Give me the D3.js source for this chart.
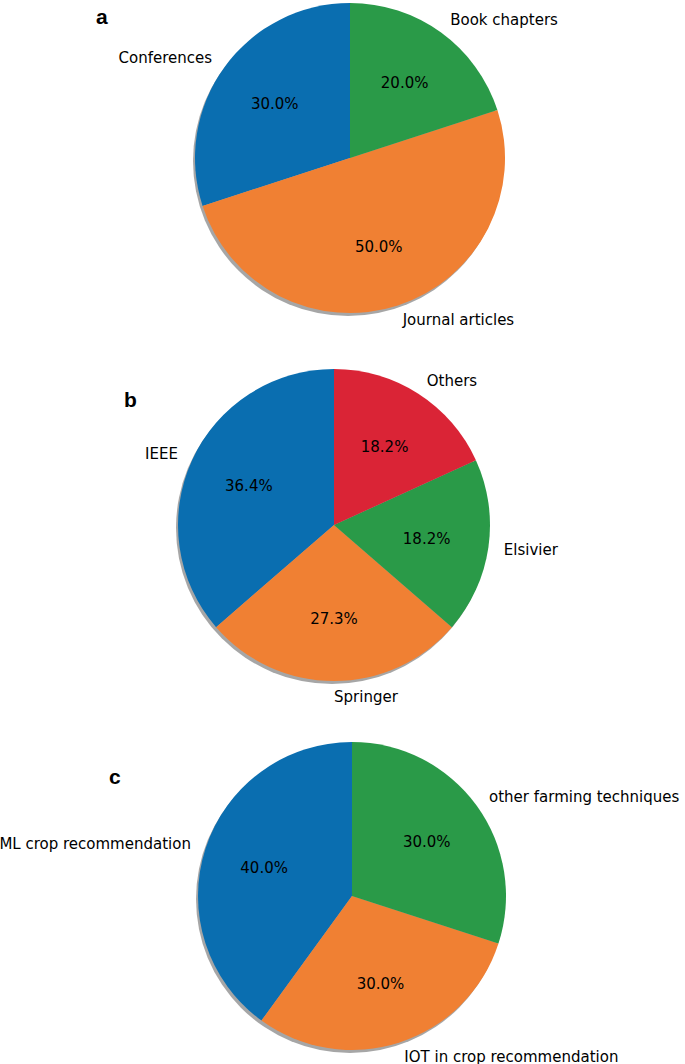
<!DOCTYPE html>
<html><head><meta charset="utf-8">
<script src="https://cdn.jsdelivr.net/npm/d3@7.9.0/dist/d3.min.js"></script>
<style>body{margin:0;background:#fff}text{font-family:"DejaVu Sans",sans-serif}</style>
</head><body><svg width="685" height="1064"></svg>
<script>
const labelsA = ['Conferences', 'Journal articles', 'Book chapters'];
const valuesA = [3, 5, 2];
const labelsB = ['IEEE', 'Springer', 'Elsivier', 'Others'];
const valuesB = [4, 3, 2, 2];
const labelsC = ['ML crop recommendation', 'IOT in crop recommendation', 'other farming techniques'];
const valuesC = [4, 3, 3];
const colors = ['#0a6eb0', '#f08033', '#2a9a48', '#da2436'];

const svg = d3.select('svg');

function drawPie(letter, lx, ly, cx, cy, r, labels, values) {
  const g = svg.append('g').attr('transform', `translate(${cx},${cy})`);
  // counter-clockwise from the top, like matplotlib startangle=90
  const pie = d3.pie().sort(null).startAngle(0).endAngle(-2 * Math.PI);
  const arcs = pie(values);
  const arc = d3.arc().innerRadius(0).outerRadius(r);
  g.append('circle').attr('cx', -2).attr('cy', 3).attr('r', r)
    .attr('fill', '#000').attr('opacity', 0.35);
  g.selectAll('path.s').data(arcs).enter().append('path')
    .attr('d', arc).attr('fill', (d, i) => colors[i]);
  const total = d3.sum(values);
  arcs.forEach((d, i) => {
    const a = (d.startAngle + d.endAngle) / 2;
    const sx = Math.sin(a), sy = -Math.cos(a);
    g.append('text').attr('x', 1.1 * r * sx).attr('y', 1.1 * r * sy)
      .attr('dy', '0.35em').attr('font-size', 15)
      .attr('text-anchor', sx < -1e-6 ? 'end' : 'start').text(labels[i]);
    g.append('text').attr('x', 0.6 * r * sx).attr('y', 0.6 * r * sy)
      .attr('dy', '0.35em').attr('font-size', 15).attr('text-anchor', 'middle')
      .text((100 * values[i] / total).toFixed(1) + '%');
  });
  svg.append('text').attr('x', lx).attr('y', ly).attr('font-size', 21)
    .attr('font-weight', 'bold').style('font-family', 'Liberation Sans, Arial')
    .text(letter);
}

drawPie('a', 96, 24, 350, 158, 155, labelsA, valuesA);
drawPie('b', 124, 407, 334, 525, 156, labelsB, valuesB);
drawPie('c', 109, 784, 352, 896, 154, labelsC, valuesC);
</script></body></html>
